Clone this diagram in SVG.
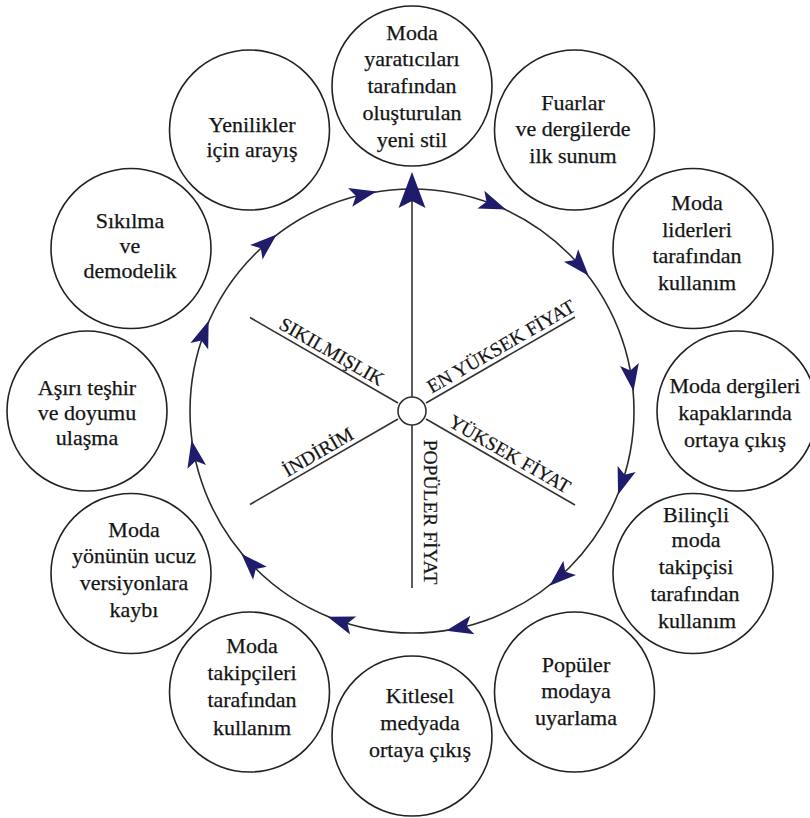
<svg xmlns="http://www.w3.org/2000/svg" xmlns:xlink="http://www.w3.org/1999/xlink" width="810" height="818" viewBox="0 0 810 818">
<style>
.node circle{fill:#fff;stroke:#222;stroke-width:1.6}
.node text{font-family:"Liberation Serif","Times New Roman",serif;font-size:22px;fill:#141414;stroke:#141414;stroke-width:0.25;text-anchor:middle}
.ring{fill:none;stroke:#2a2a2a;stroke-width:1.6}
.spoke{stroke:#333;stroke-width:1.6;fill:none}
.lbl{font-family:"Liberation Serif","Times New Roman",serif;font-size:19.5px;fill:#141414;stroke:#141414;stroke-width:0.2;text-anchor:middle}
.ah{fill:#1f1d6b}
</style>
<defs>
<path id="ah" d="M14,0 L-13,-9.5 L-7,0 L-13,9.5 Z"/>
</defs>
<rect width="810" height="818" fill="#fff"/>
<g id="connectors">
<circle class="ring" cx="412" cy="411" r="222"/>
<line class="spoke" x1="412" y1="200" x2="412" y2="397"/>
<line class="spoke" x1="412" y1="425" x2="412" y2="588"/>
<line class="spoke" x1="398" y1="403" x2="250" y2="317.5"/>
<line class="spoke" x1="426" y1="403" x2="575" y2="317"/>
<line class="spoke" x1="426" y1="419" x2="575" y2="505"/>
<line class="spoke" x1="398" y1="419" x2="250" y2="504.5"/>
<circle cx="412" cy="411" r="14" fill="#fff" stroke="#333" stroke-width="1.6"/>
<path class="ah" d="M412,172 L425.5,208 L412,201 L398.5,208 Z"/>
<g class="ah">
<use xlink:href="#ah" transform="translate(493,204.3) rotate(21.4)"/>
<use xlink:href="#ah" transform="translate(579.5,265.3) rotate(49)"/>
<use xlink:href="#ah" transform="translate(631.4,377.4) rotate(81.3)"/>
<use xlink:href="#ah" transform="translate(622.5,481.4) rotate(108.5)"/>
<use xlink:href="#ah" transform="translate(560,576.5) rotate(138.2)"/>
<use xlink:href="#ah" transform="translate(459.7,627.8) rotate(167.6)"/>
<use xlink:href="#ah" transform="translate(340.8,621.3) rotate(198.7)"/>
<use xlink:href="#ah" transform="translate(251,563.8) rotate(226.5)"/>
<use xlink:href="#ah" transform="translate(194.2,454.1) rotate(258.8)"/>
<use xlink:href="#ah" transform="translate(203.8,334) rotate(290.3)"/>
<use xlink:href="#ah" transform="translate(266.1,243.7) rotate(318.9)"/>
<use xlink:href="#ah" transform="translate(362.8,194.5) rotate(347.2)"/>
</g>
</g>
<g id="labels">
<text class="lbl" transform="translate(326,361.5) rotate(30)" y="-5">SIKILMIŞLIK</text>
<text class="lbl" transform="translate(506.6,356.4) rotate(-30)" y="-5">EN YÜKSEK FİYAT</text>
<text class="lbl" transform="translate(504,464) rotate(30)" y="-5">YÜKSEK FİYAT</text>
<text class="lbl" transform="translate(323.8,462) rotate(-30)" y="-5">İNDİRİM</text>
<text class="lbl" transform="translate(412,512) rotate(90)" y="-12">POPÜLER FİYAT</text>
</g>
<g id="n0" class="node"><circle cx="412" cy="86" r="80"/>
<text x="412" y="40">Moda</text><text x="412" y="66">yaratıcıları</text><text x="412" y="93">tarafından</text><text x="412" y="120">oluşturulan</text><text x="412" y="147">yeni stil</text></g>
<g id="n1" class="node"><circle cx="574.5" cy="130" r="80"/>
<text x="573" y="110">Fuarlar</text><text x="573" y="136">ve dergilerde</text><text x="573" y="163">ilk sunum</text></g>
<g id="n2" class="node"><circle cx="693" cy="248.5" r="80"/>
<text x="697" y="210">Moda</text><text x="697" y="237">liderleri</text><text x="697" y="263">tarafından</text><text x="697" y="290">kullanım</text></g>
<g id="n3" class="node"><circle cx="737" cy="411" r="80"/>
<text x="735" y="393">Moda dergileri</text><text x="735" y="420">kapaklarında</text><text x="735" y="447">ortaya çıkış</text></g>
<g id="n4" class="node"><circle cx="693" cy="573.5" r="80"/>
<text x="696" y="522">Bilinçli</text><text x="696" y="547">moda</text><text x="696" y="574">takipçisi</text><text x="695" y="601">tarafından</text><text x="697" y="628">kullanım</text></g>
<g id="n5" class="node"><circle cx="574.5" cy="692" r="80"/>
<text x="576" y="672">Popüler</text><text x="576" y="698">modaya</text><text x="576" y="725">uyarlama</text></g>
<g id="n6" class="node"><circle cx="412" cy="736" r="80"/>
<text x="420" y="703">Kitlesel</text><text x="420" y="730">medyada</text><text x="420" y="757">ortaya çıkış</text></g>
<g id="n7" class="node"><circle cx="249.5" cy="692" r="80"/>
<text x="252" y="653">Moda</text><text x="252" y="680">takipçileri</text><text x="252" y="707">tarafından</text><text x="252" y="735">kullanım</text></g>
<g id="n8" class="node"><circle cx="131" cy="573.5" r="80"/>
<text x="134" y="537">Moda</text><text x="134" y="563">yönünün ucuz</text><text x="134" y="590">versiyonlara</text><text x="134" y="617">kaybı</text></g>
<g id="n9" class="node"><circle cx="87" cy="411" r="80"/>
<text x="87" y="395">Aşırı teşhir</text><text x="87" y="420">ve doyumu</text><text x="87" y="445">ulaşma</text></g>
<g id="n10" class="node"><circle cx="131" cy="248.5" r="80"/>
<text x="130" y="228">Sıkılma</text><text x="130" y="253">ve</text><text x="130" y="278">demodelik</text></g>
<g id="n11" class="node"><circle cx="249.5" cy="130" r="80"/>
<text x="252" y="132">Yenilikler</text><text x="252" y="157">için arayış</text></g>
</svg>
